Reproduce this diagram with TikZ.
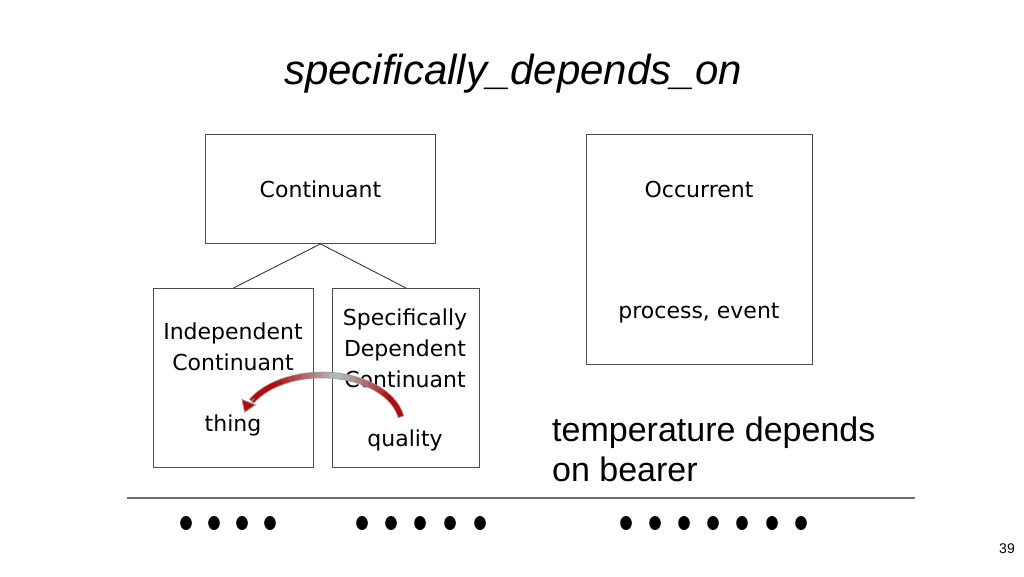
\documentclass[tikz,border=0pt]{standalone}
\usepackage{fontspec}
\setmainfont{DejaVu Sans}
\newfontfamily\arialfont{Liberation Sans}
\usepackage{tikz}
\usetikzlibrary{arrows.meta, calc}
\definecolor{boxline}{HTML}{4D4D4D}
\definecolor{rulegray}{HTML}{707070}
\definecolor{arcred}{HTML}{B80A0A}
\definecolor{arcmist}{HTML}{AFC3C6}
\definecolor{rimgray}{HTML}{9AA0A2}
\tikzset{
  catbox/.style={
    rectangle, anchor=north west, inner sep=0pt,
    draw=boxline, line width=0.9pt,
  },
  boxtext/.style={
    font=\fontsize{22}{31}\selectfont, align=center, inner sep=0pt,
  },
  link/.style={draw=black!85, line width=0.8pt},
  ribbon/.style={line width=5pt},
  tick/.style={fill=black},
}

\begin{document}
\begin{tikzpicture}[x=1pt, y=-1pt]
  \useasboundingbox (0,0) rectangle (1024,576);

  \node[font=\arialfont\itshape\fontsize{42}{50}\selectfont, anchor=base] (title) at (513,84) {specifically\_depends\_on};

  \node[catbox, minimum width=230pt, minimum height=109pt] (cont) at (205,134) {};
  \node[catbox, minimum width=226pt, minimum height=230pt] (occ) at (586,134) {};
  \node[catbox, minimum width=160pt, minimum height=179pt] (indep) at (153,288) {};
  \node[catbox, minimum width=147pt, minimum height=179pt] (spec) at (332,288) {};

  \node[boxtext] (contlbl) at (cont.center) {Continuant};
  \node[boxtext] (occlbl) at (699,189) {Occurrent};
  \node[boxtext] (occex) at (699,313) {process, event};
  \node[boxtext] (indeplbl) at (233,347) {Independent\\Continuant};
  \node[boxtext] (indepex) at (233,425) {thing};
  \node[boxtext] (speclbl) at (405,348) {Specifically\\Dependent\\Continuant};
  \node[boxtext] (specex) at (405,440) {quality};

  \draw[link] (cont.south) -- (indep.north);
  \draw[link] (cont.south) -- (spec.north);

  \coordinate (arcctr) at (322,425);
  \draw[rimgray, line width=6.6pt] ([shift={(351:80 and 50)}]arcctr) arc[start angle=351, end angle=208, x radius=80, y radius=50];
  \foreach \a in {350,345,...,215} {
    \pgfmathsetmacro\m{min(100,abs(\a-283)*2.2)}
    \draw[ribbon, arcred!\m!arcmist] ([shift={(\a:80 and 50)}]arcctr) arc[start angle=\a, end angle=\a-6, x radius=80, y radius=50];
  }
  \draw[rimgray, line width=0.8pt, -{Triangle[width=16pt, length=12pt, fill=arcred]}] ([shift={(212:80 and 50)}]arcctr) arc[start angle=212, end angle=194, x radius=80, y radius=50];

  \node[font=\arialfont\fontsize{34}{40}\selectfont, align=left, anchor=north west, inner sep=0pt] (note) at (552,417) {temperature depends\\on bearer};

  \draw[rulegray, line width=1.2pt] (127,498) -- (915,498);
  \foreach \x in {186,214,242,270, 362,391,420,450,480, 626,655,684,713,742,772,801}
    \fill[tick] (\x,523) ellipse[x radius=5.8, y radius=7];

  \node[font=\arialfont\fontsize{14}{16}\selectfont] (pagenum) at (1007,549) {39};
\end{tikzpicture}
\end{document}
